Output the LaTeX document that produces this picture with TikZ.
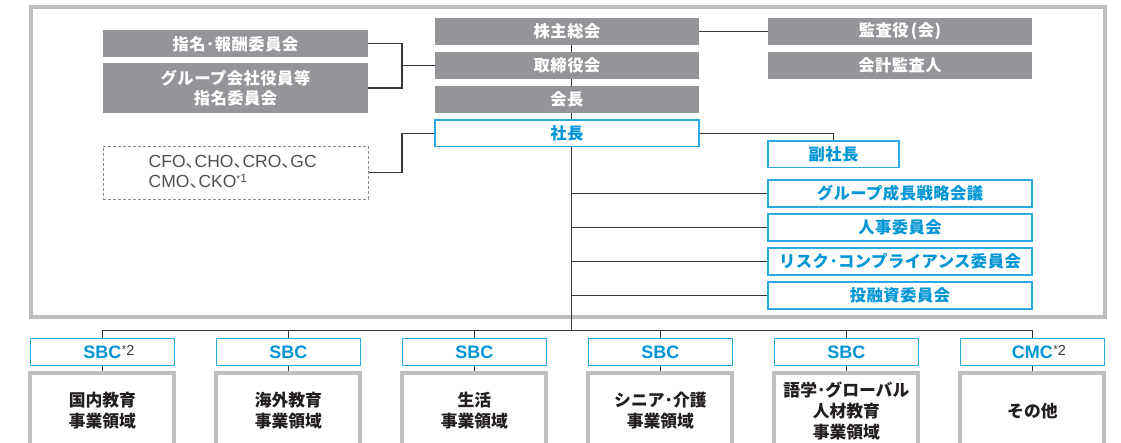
\documentclass[tikz,border=0pt]{standalone}
\usepackage{fontspec}
\setmainfont{Noto Sans CJK JP}
\newfontfamily\lat{Liberation Sans}
\usetikzlibrary{backgrounds}
\pgfdeclarelayer{back}
\pgfdeclarelayer{background}
\pgfsetlayers{back,background,main}
\definecolor{boxgray}{RGB}{147,149,152}
\definecolor{cyanline}{RGB}{41,171,226}
\definecolor{cyantext}{RGB}{0,150,214}
\definecolor{framegray}{RGB}{190,191,193}
\definecolor{linecol}{RGB}{55,55,55}
\definecolor{dashgray}{RGB}{140,140,140}
\definecolor{cfotext}{RGB}{80,80,80}
\definecolor{textblack}{RGB}{35,31,32}
\definecolor{supgray}{RGB}{60,60,60}
\newcommand\tn{{\normalfont\fontsize{17}{20}\selectfont 、}\kern-8pt}
\newcommand\supnote[1]{\rlap{\color{supgray}\lat\mdseries\kern0.5pt\raisebox{2.5pt}{\raisebox{2pt}{\fontsize{11.5}{11}\selectfont *}\fontsize{14.5}{14}\selectfont #1}}}
\newcommand\jpfont{\bfseries\fontsize{16.3}{20}\selectfont\addfontfeature{LetterSpace=3}}
\tikzset{
  gbox/.style={fill=boxgray, text=white, font=\jpfont, inner sep=0pt, outer sep=0pt, align=center, minimum width=264pt, minimum height=26.7pt},
  cbox/.style={draw=cyanline, line width=1.6pt, fill=white, text=cyantext, font=\jpfont, inner sep=0pt, outer sep=0pt, align=center, minimum width=264pt, minimum height=26.5pt},
  sbox/.style={cbox, minimum width=144pt, minimum height=27pt, font=\lat\bfseries\fontsize{18}{20}\selectfont},
  abox/.style={draw=framegray, line width=4pt, fill=white, text=textblack, font=\bfseries\fontsize{16.8}{21}\selectfont, align=center, minimum width=144pt, minimum height=76pt, inner sep=0pt, outer sep=0pt},
  dbox/.style={draw=dashgray, line width=0.9pt, dash pattern=on 3pt off 2pt, minimum width=265pt, minimum height=53pt, inner sep=0pt, outer sep=0pt},
  conn/.style={draw=linecol, line width=1.1pt},
}
\begin{document}
\begin{tikzpicture}[x=1pt,y=-1pt]
\useasboundingbox (0,0) rectangle (1121,443);
\begin{pgfonlayer}{back}
  \fill[white] (0,0) rectangle (1121,443);
  \draw[framegray, line width=4pt] (30.5,7.5) rectangle (1104.5,317.5);
\end{pgfonlayer}
% left column
\node[gbox, minimum width=265pt] (nom) at (235.5,43.8) {指名･報酬委員会};
\node[gbox, minimum width=265pt, minimum height=49.4pt] (gnom) at (235.5,88) {グループ会社役員等\\指名委員会};
\node[dbox] (cfo) at (235.5,172.5) {};
\node[anchor=west, align=left, text=cfotext, font=\lat\fontsize{17.5}{20}\selectfont, inner sep=0pt] (cfotxt) at (148.5,172)
  {CFO\tn CHO\tn CRO\tn GC\\CMO\tn CKO\rlap{\raisebox{5pt}{\fontsize{10}{10}\selectfont *}\raisebox{5pt}{\fontsize{12}{12}\selectfont 1}}};
% center column
\node[gbox] (kabu) at (567,31.7) {株主総会};
\node[gbox] (tori) at (567,65.7) {取締役会};
\node[gbox] (kaicho) at (567,99.5) {会長};
\node[cbox] (shacho) at (567,133.3) {社長};
% right column
\node[gbox] (kansa) at (900,31.7) {監査役\kern2pt(会)};
\node[gbox] (kaikei) at (900,65.7) {会計監査人};
\node[cbox, minimum width=131pt] (fuku) at (833.5,154.2) {副社長};
\node[cbox] (com1) at (900,193.5) {グループ成長戦略会議};
\node[cbox] (com2) at (900,227.5) {人事委員会};
\node[cbox] (com3) at (900,261.5) {リスク･コンプライアンス委員会};
\node[cbox] (com4) at (900,295.5) {投融資委員会};
% business units
\node[sbox] (s1) at (102.4,352.1) {SBC\supnote{2}};
\node[sbox] (s2) at (288.4,352.1) {SBC};
\node[sbox] (s3) at (474.4,352.1) {SBC};
\node[sbox] (s4) at (660.4,352.1) {SBC};
\node[sbox] (s5) at (846.4,352.1) {SBC};
\node[sbox] (s6) at (1032.4,352.1) {CMC\supnote{2}};
\node[abox] (a1) at (102.4,411) {国内教育\\事業領域};
\node[abox] (a2) at (288.4,411) {海外教育\\事業領域};
\node[abox] (a3) at (474.4,411) {生活\\事業領域};
\node[abox] (a4) at (660.4,411) {シニア･介護\\事業領域};
\node[abox] (a5) at (846.4,411) {語学･グローバル\\人材教育\\事業領域};
\node[abox] (a6) at (1032.4,411) {その他};
% coordinates
\coordinate (lj) at (402,65.7);
\coordinate (tk) at (571.5,330.7);
\begin{pgfonlayer}{background}
  \draw[conn] (nom.east) -| (gnom.east -| lj) -- (gnom.east);
  \draw[conn] (lj) -- (tori.west);
  \draw[conn] (shacho.west) -| (cfo.east -| lj) -- (cfo.east);
  \draw[conn] (kabu.east) -- (kansa.west);
  \draw[conn] (shacho.east) -| (fuku.north);
  \draw[conn] (kabu.south -| tk) -- (tk);
  \draw[conn] (com1.west -| tk) -- (com1.west);
  \draw[conn] (com2.west -| tk) -- (com2.west);
  \draw[conn] (com3.west -| tk) -- (com3.west);
  \draw[conn] (com4.west -| tk) -- (com4.west);
  \draw[conn] (s1.north) |- (tk) -| (s6.north);
  \draw[conn] (s2.north) -- (s2.north |- tk);
  \draw[conn] (s3.north) -- (s3.north |- tk);
  \draw[conn] (s4.north) -- (s4.north |- tk);
  \draw[conn] (s5.north) -- (s5.north |- tk);
  \draw[conn] (s1.south) -- (a1.north);
  \draw[conn] (s2.south) -- (a2.north);
  \draw[conn] (s3.south) -- (a3.north);
  \draw[conn] (s4.south) -- (a4.north);
  \draw[conn] (s5.south) -- (a5.north);
  \draw[conn] (s6.south) -- (a6.north);
\end{pgfonlayer}
\end{tikzpicture}
\end{document}
